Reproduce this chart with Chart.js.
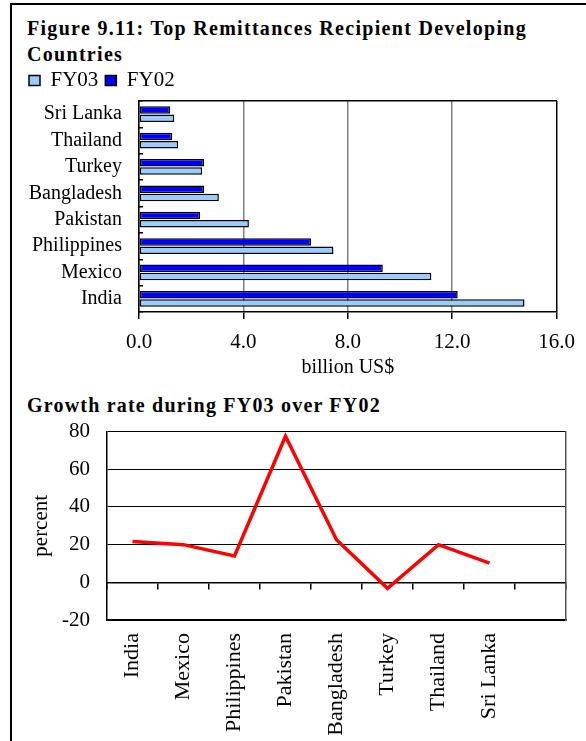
<!DOCTYPE html>
<html>
<head>
<meta charset="utf-8">
<script src="https://cdn.jsdelivr.net/npm/chart.js@4/dist/chart.umd.min.js"></script>
<style>
  html, body { margin: 0; padding: 0; background: #fff; }
  body { width: 586px; height: 741px; position: relative; overflow: hidden; font-family: 'Liberation Serif', 'Times New Roman', serif; }
  .frame { position: absolute; left: 10px; top: 3px; width: 640px; height: 800px; border: 2px solid #000; box-sizing: border-box; }
  .heading { position: absolute; left: 27px; font-weight: bold; font-size: 20px; letter-spacing: 1.3px; color: #000; white-space: nowrap; }
  #title { top: 16px; line-height: 25.7px; }
  #subtitle { top: 393px; line-height: 24px; letter-spacing: 1.2px; }
  canvas { position: absolute; left: 0; }
  #barChart { top: 63px; }
  #lineChart { top: 402px; }
</style>
</head>
<body>
<div class="frame"></div>
<div class="heading" id="title">Figure 9.11: Top Remittances Recipient Developing<br>Countries</div>
<div class="heading" id="subtitle">Growth rate during FY03 over FY02</div>
<canvas id="barChart" width="586" height="326"></canvas>
<canvas id="lineChart" width="586" height="339"></canvas>
<script>
  // remittances, billion US$
  const countries = ['India', 'Mexico', 'Philippines', 'Pakistan', 'Bangladesh', 'Turkey', 'Thailand', 'Sri Lanka'];
  const fy02 = [12.21, 9.34, 6.59, 2.34, 2.49, 2.49, 1.27, 1.19];
  const fy03 = [14.77, 11.2, 7.45, 4.21, 3.06, 2.42, 1.5, 1.35];
  // growth FY03 over FY02, percent
  const growth = [21.7, 20, 14, 77.5, 22.6, -3.2, 20, 10.2];

  const serif = 'Liberation Serif';
  Chart.defaults.font.family = serif;
  Chart.defaults.color = '#000';

  // bar chart lists India at the bottom
  const barLabels = countries.slice().reverse();

  const barData = {
    labels: barLabels,
    datasets: [{
      label: 'FY02',
      backgroundColor: '#0000FF',
      borderColor: '#000',
      borderWidth: 1.5,
      borderSkipped: false,
      data: fy02.slice().reverse(),
    }, {
      label: 'FY03',
      backgroundColor: '#99CCFF',
      borderColor: '#000',
      borderWidth: 1.5,
      borderSkipped: false,
      data: fy03.slice().reverse(),
    }]
  };

  const barConfig = {
    type: 'bar',
    data: barData,
    options: {
      indexAxis: 'y',
      responsive: false,
      animation: false,
      categoryPercentage: 0.62,
      barPercentage: 0.92,
      layout: { padding: { left: 22, right: 28, top: 0, bottom: 0 } },
      plugins: {
        legend: {
          position: 'top',
          align: 'start',
          reverse: true,
          maxHeight: 39,
          labels: { boxWidth: 11, boxHeight: 10, padding: 7, font: { size: 21 }, color: '#000' }
        },
        tooltip: { enabled: false }
      },
      scales: {
        x: {
          min: 0,
          max: 16,
          ticks: { stepSize: 4, padding: 11, font: { size: 21 }, callback: (v) => v.toFixed(1) },
          grid: {
            color: (ctx) => ctx.tick && ctx.tick.value === 16 ? '#000' : '#808080',
            lineWidth: 1.5,
            tickColor: '#000',
            tickLength: 7
          },
          border: { color: '#000', width: 1.5 },
          title: { display: true, text: 'billion US$', font: { size: 20 }, padding: { top: 0, bottom: 9 } },
          afterFit: (axis) => { axis.height = 77; }
        },
        xTop: {
          type: 'linear',
          position: 'top',
          min: 0,
          max: 16,
          ticks: { display: false },
          grid: { display: false, drawTicks: false },
          border: { color: '#000', width: 1.5 }
        },
        y: {
          // short inward marks between the countries
          ticks: { autoSkip: false, padding: 21, font: { size: 20 } },
          grid: { offset: true, drawOnChartArea: false, drawTicks: true, tickLength: -4, color: '#000', lineWidth: 1.5 },
          border: { color: '#000', width: 1.5 },
          afterFit: (axis) => { axis.width = 117; }
        }
      }
    }
  };

  const lineConfig = {
    type: 'line',
    data: {
      labels: countries.concat(['']),
      datasets: [{
        label: 'growth',
        data: growth,
        borderColor: '#FF0000',
        borderWidth: 3.5,
        pointRadius: 0,
        tension: 0,
        fill: false
      }]
    },
    options: {
      responsive: false,
      animation: false,
      layout: { padding: { left: 12, right: 20, top: 20, bottom: 0 } },
      plugins: { legend: { display: false }, tooltip: { enabled: false } },
      scales: {
        x: {
          offset: true,
          ticks: { autoSkip: false, minRotation: 90, maxRotation: 90, padding: 13, font: { size: 22 } },
          grid: { display: false, drawTicks: false },
          border: { color: '#000', width: 1.5 },
          afterFit: (axis) => { axis.height = 121; }
        },
        // zero line with its tick marks
        xZero: {
          type: 'category',
          position: { y: 0 },
          offset: true,
          ticks: { display: false },
          grid: { offset: true, drawOnChartArea: false, drawTicks: true, tickLength: 6, color: '#000', lineWidth: 1.5 },
          border: { color: '#000', width: 1.5 }
        },
        y: {
          min: -20,
          max: 80,
          ticks: { stepSize: 20, padding: 17, font: { size: 21 } },
          grid: { color: '#000', lineWidth: 1, drawTicks: false },
          border: { color: '#000', width: 1.5 },
          title: { display: true, text: 'percent', font: { size: 21 }, padding: { top: 17, bottom: 0 } },
          afterFit: (axis) => { axis.width = 95; }
        },
        yRight: {
          type: 'linear',
          position: 'right',
          ticks: { display: false },
          grid: { display: false, drawTicks: false },
          border: { color: '#555', width: 1.5 }
        }
      }
    }
  };

  const barChart = new Chart(document.getElementById('barChart'), barConfig);
  const lineChart = new Chart(document.getElementById('lineChart'), lineConfig);
</script>
</body>
</html>
